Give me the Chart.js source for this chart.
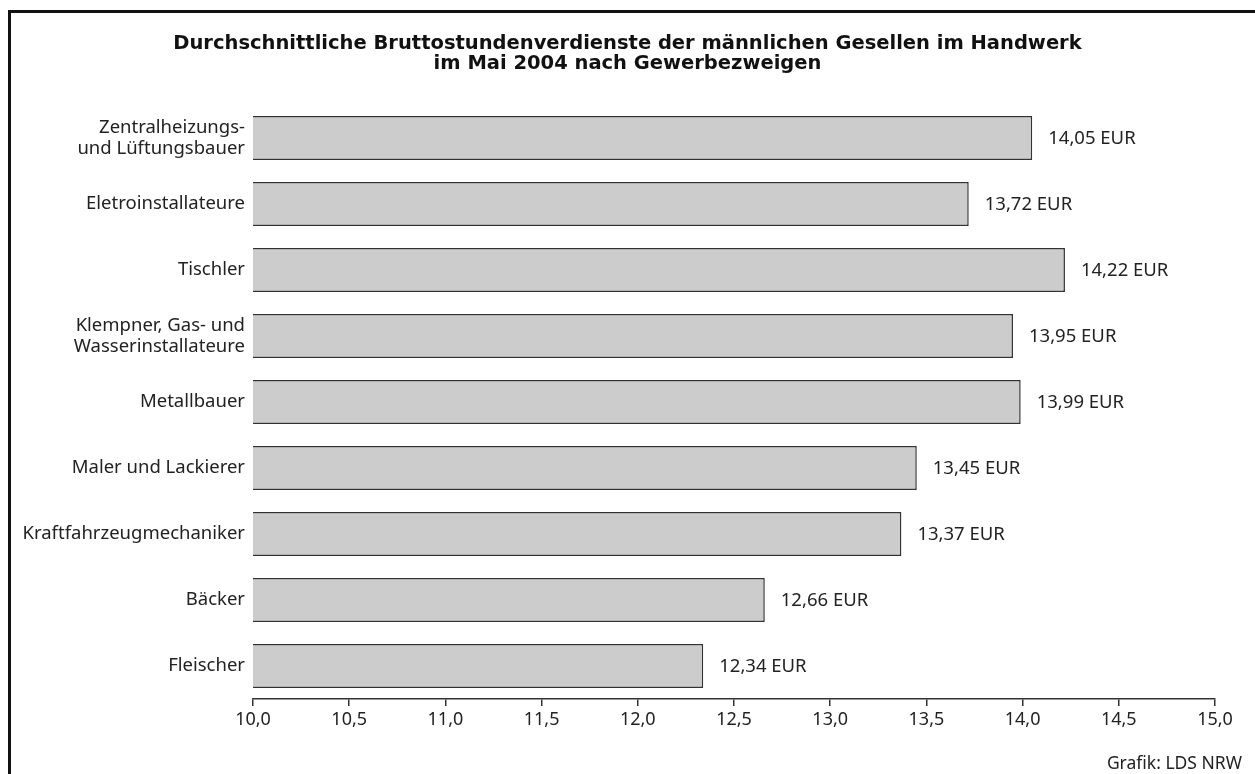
<!DOCTYPE html>
<html lang="de">
<head>
<meta charset="utf-8">
<title>Bruttostundenverdienste im Handwerk</title>
<script src="https://cdn.jsdelivr.net/npm/chart.js@4/dist/chart.umd.min.js"></script>
<style>
  html, body { margin: 0; padding: 0; background: #fff; }
  body { width: 1255px; height: 774px; position: relative; overflow: hidden; }
  #frame {
    position: absolute; left: 8px; top: 10px; width: 1300px; height: 800px;
    border-top: 3px solid #111; border-left: 3px solid #111; box-sizing: border-box;
  }
  #title {
    position: absolute; left: 0; top: 33px; width: 1255px; text-align: center;
    font-family: "DejaVu Sans", sans-serif; font-weight: bold;
    font-size: 19.5px; line-height: 20px; color: #111;
  }
  #source {
    position: absolute; right: 13px; top: 751px;
    font-family: "Noto Sans", sans-serif; font-size: 17.5px; line-height: 22px; color: #222;
  }
  #wrap { position: absolute; left: 0; top: 0; width: 1255px; height: 774px; }
</style>
</head>
<body>
<div id="frame"></div>
<div id="wrap"><canvas id="chart"></canvas></div>
<div id="title">Durchschnittliche Bruttostundenverdienste der männlichen Gesellen im Handwerk<br>im Mai 2004 nach Gewerbezweigen</div>
<div id="source">Grafik: LDS NRW</div>
<script>
// Gewerbezweige (top to bottom)
const categories = [
  ['Zentralheizungs-', 'und Lüftungsbauer'],
  'Eletroinstallateure',
  'Tischler',
  ['Klempner, Gas- und', 'Wasserinstallateure'],
  'Metallbauer',
  'Maler und Lackierer',
  'Kraftfahrzeugmechaniker',
  'Bäcker',
  'Fleischer'
];
// EUR per hour
const earnings = [14.05, 13.72, 14.22, 13.95, 13.99, 13.45, 13.37, 12.66, 12.34];
const xTicks = [10, 10.5, 11, 11.5, 12, 12.5, 13, 13.5, 14, 14.5, 15];

const fontFamily = '"Noto Sans", "Open Sans", sans-serif';
const fmt = (v, d) => v.toFixed(d).replace('.', ',');

// value labels right of each bar
const valueLabels = {
  id: 'valueLabels',
  afterDatasetsDraw(chart) {
    const ctx = chart.ctx;
    const meta = chart.getDatasetMeta(0);
    ctx.save();
    ctx.font = '18.5px ' + fontFamily;
    ctx.fillStyle = '#222';
    ctx.textAlign = 'left';
    ctx.textBaseline = 'middle';
    meta.data.forEach((bar, i) => {
      ctx.fillText(fmt(earnings[i], 2) + ' EUR', bar.x + 16, bar.y + 1);
    });
    ctx.restore();
  }
};

new Chart(document.getElementById('chart'), {
  type: 'bar',
  data: {
    labels: categories,
    datasets: [{
      data: earnings,
      backgroundColor: '#cccccc',
      borderColor: '#333333',
      borderWidth: 1.5,
      borderSkipped: false,
      categoryPercentage: 1,
      barPercentage: 0.667
    }]
  },
  options: {
    indexAxis: 'y',
    responsive: true,
    maintainAspectRatio: false,
    animation: false,
    layout: { padding: { top: 105, right: 40, bottom: 0, left: 0 } },
    plugins: {
      legend: { display: false },
      title: { display: false },
      tooltip: { enabled: false }
    },
    scales: {
      x: {
        type: 'linear',
        min: 10,
        max: 15,
        afterBuildTicks(scale) {
          scale.ticks = xTicks.map(v => ({ value: v }));
        },
        afterFit(scale) { scale.height = 75; },
        border: { display: true, color: '#333', width: 1.5 },
        grid: { drawOnChartArea: false, drawTicks: true, tickLength: 7, color: '#333', lineWidth: 1.5 },
        ticks: {
          padding: 3,
          color: '#222',
          font: { family: fontFamily, size: 18 },
          maxRotation: 0,
          callback: (v) => fmt(v, 1)
        }
      },
      y: {
        afterFit(scale) { scale.width = 253; },
        border: { display: false },
        grid: { display: false, drawTicks: false },
        ticks: {
          padding: 8,
          color: '#222',
          crossAlign: 'near',
          font: { family: fontFamily, size: 18.5, lineHeight: 1.14 }
        }
      }
    }
  },
  plugins: [valueLabels]
});
</script>
</body>
</html>
